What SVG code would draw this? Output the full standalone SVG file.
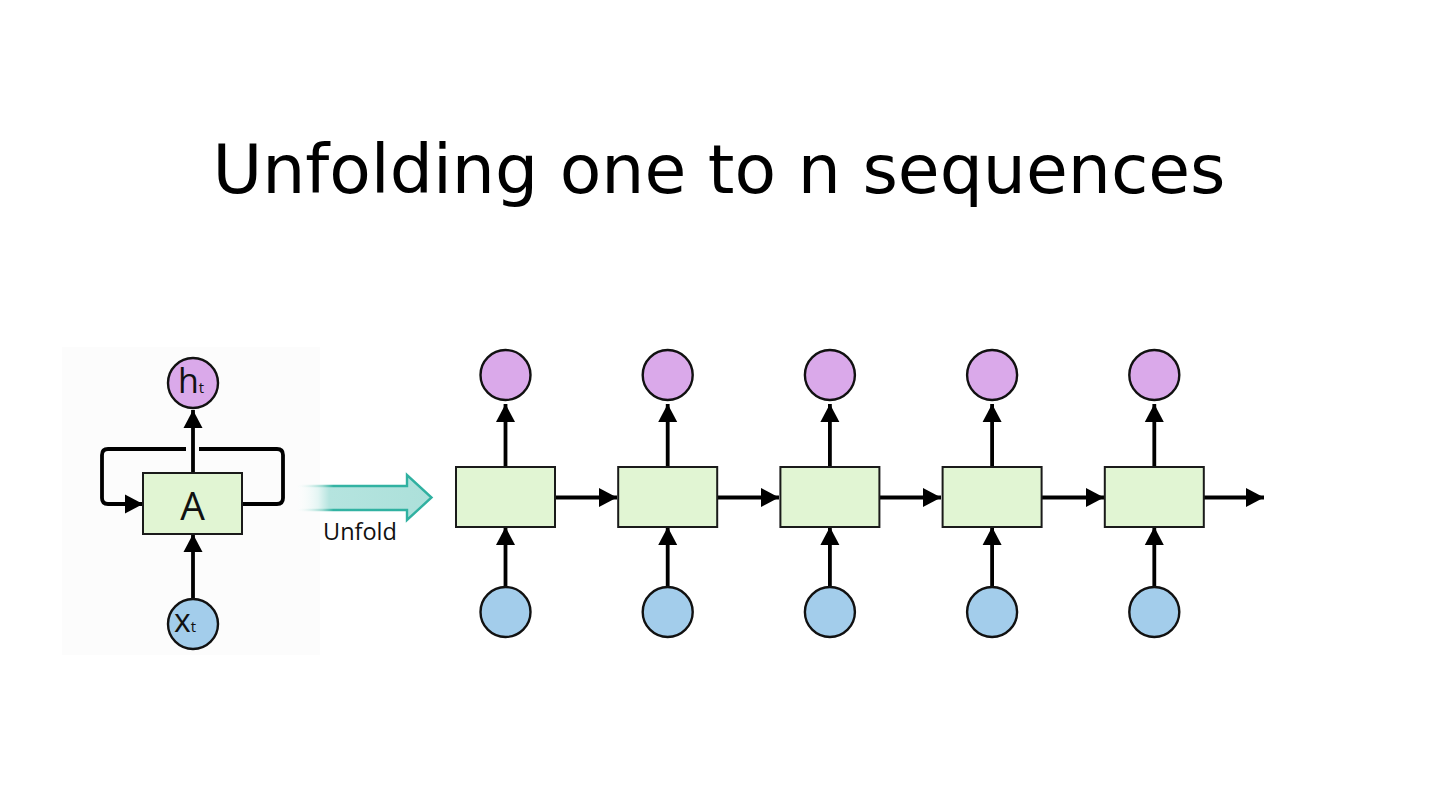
<svg xmlns="http://www.w3.org/2000/svg" width="1440" height="811" viewBox="0 0 1440 811">
<style>
.ln{fill:none;stroke:#000;stroke-width:3.8}
.box{fill:#e1f5d3;stroke:#1a1a1a;stroke-width:2}
.ho{fill:#daa9ea;stroke:#111;stroke-width:2.4}
.xi{fill:#a3cdeb;stroke:#111;stroke-width:2.4}
.lbl{font-family:"Open Sans","Noto Sans",sans-serif;fill:#111}
</style>
<defs>
<marker id="ah" markerUnits="userSpaceOnUse" markerWidth="19" markerHeight="20" refX="18" refY="9.5" orient="auto" viewBox="0 0 19 19">
<path d="M0,0 L18,9.5 L0,19 z" fill="#000"/>
</marker>
<linearGradient id="uf" x1="295" y1="0" x2="432" y2="0" gradientUnits="userSpaceOnUse">
<stop offset="0" stop-color="#ffffff" stop-opacity="0"/>
<stop offset="0.17" stop-color="#e3f5f3"/>
<stop offset="0.25" stop-color="#b5e4df"/>
<stop offset="1" stop-color="#ace0da"/>
</linearGradient>
<linearGradient id="ufs" x1="295" y1="0" x2="432" y2="0" gradientUnits="userSpaceOnUse">
<stop offset="0" stop-color="#ffffff" stop-opacity="0"/>
<stop offset="0.2" stop-color="#9edbd2"/>
<stop offset="0.28" stop-color="#33b3a3"/>
<stop offset="1" stop-color="#2fb0a0"/>
</linearGradient>
</defs>
<rect width="1440" height="811" fill="#fff"/>
<rect x="62" y="347" width="258" height="308" fill="#fcfcfc"/>
<text x="719" y="193" text-anchor="middle" font-family="DejaVu Sans, sans-serif" font-size="68" fill="#000">Unfolding one to n sequences</text>

<g id="connectors">
<path class="ln" d="M242,504 H277 Q283,504 283,498 V455 Q283,449 277,449 H199"/>
<path class="ln" d="M186,449 H108 Q102,449 102,455 V498 Q102,504 108,504 H143" marker-end="url(#ah)"/>
<line class="ln" x1="193" y1="473" x2="193" y2="410" marker-end="url(#ah)"/>
<line class="ln" x1="193" y1="599" x2="193" y2="534" marker-end="url(#ah)"/>
<g id="c-up">
<line class="ln" x1="505.5" y1="467" x2="505.5" y2="404" marker-end="url(#ah)"/>
<line class="ln" x1="667.7" y1="467" x2="667.7" y2="404" marker-end="url(#ah)"/>
<line class="ln" x1="829.9" y1="467" x2="829.9" y2="404" marker-end="url(#ah)"/>
<line class="ln" x1="992.1" y1="467" x2="992.1" y2="404" marker-end="url(#ah)"/>
<line class="ln" x1="1154.3" y1="467" x2="1154.3" y2="404" marker-end="url(#ah)"/>
</g>
<g id="c-in">
<line class="ln" x1="505.5" y1="587" x2="505.5" y2="527" marker-end="url(#ah)"/>
<line class="ln" x1="667.7" y1="587" x2="667.7" y2="527" marker-end="url(#ah)"/>
<line class="ln" x1="829.9" y1="587" x2="829.9" y2="527" marker-end="url(#ah)"/>
<line class="ln" x1="992.1" y1="587" x2="992.1" y2="527" marker-end="url(#ah)"/>
<line class="ln" x1="1154.3" y1="587" x2="1154.3" y2="527" marker-end="url(#ah)"/>
</g>
<g id="c-h">
<line class="ln" x1="555" y1="497.5" x2="617" y2="497.5" marker-end="url(#ah)"/>
<line class="ln" x1="717" y1="497.5" x2="779" y2="497.5" marker-end="url(#ah)"/>
<line class="ln" x1="879" y1="497.5" x2="941" y2="497.5" marker-end="url(#ah)"/>
<line class="ln" x1="1041" y1="497.5" x2="1104" y2="497.5" marker-end="url(#ah)"/>
<line class="ln" x1="1204" y1="497.5" x2="1264" y2="497.5" marker-end="url(#ah)"/>
</g>
</g>

<g id="A">
<rect class="box" x="143" y="473" width="99" height="61"/>
<text class="lbl" x="192.5" y="520" text-anchor="middle" font-size="39">A</text>
</g>
<g id="ht">
<circle class="ho" cx="193" cy="383" r="25"/>
<text class="lbl" x="178" y="393" font-size="34">h<tspan font-size="15">t</tspan></text>
</g>
<g id="xt">
<circle class="xi" cx="193" cy="624" r="25"/>
<text class="lbl" x="174" y="632" font-size="32">x<tspan font-size="15">t</tspan></text>
</g>
<g id="unfold">
<path d="M295,486 H407 V475 L431.5,497.5 L407,520 V510 H295" fill="url(#uf)" stroke="url(#ufs)" stroke-width="2.4"/>
<text class="lbl" x="323" y="540" font-size="23.5" fill="#333">Unfold</text>
</g>

<g id="cell1"><rect class="box" x="456" y="467" width="99" height="60"/></g>
<g id="cell2"><rect class="box" x="618.2" y="467" width="99" height="60"/></g>
<g id="cell3"><rect class="box" x="780.4" y="467" width="99" height="60"/></g>
<g id="cell4"><rect class="box" x="942.6" y="467" width="99" height="60"/></g>
<g id="cell5"><rect class="box" x="1104.8" y="467" width="99" height="60"/></g>

<g id="out1"><circle class="ho" cx="505.5" cy="375" r="25"/></g>
<g id="out2"><circle class="ho" cx="667.7" cy="375" r="25"/></g>
<g id="out3"><circle class="ho" cx="829.9" cy="375" r="25"/></g>
<g id="out4"><circle class="ho" cx="992.1" cy="375" r="25"/></g>
<g id="out5"><circle class="ho" cx="1154.3" cy="375" r="25"/></g>

<g id="in1"><circle class="xi" cx="505.5" cy="612" r="25"/></g>
<g id="in2"><circle class="xi" cx="667.7" cy="612" r="25"/></g>
<g id="in3"><circle class="xi" cx="829.9" cy="612" r="25"/></g>
<g id="in4"><circle class="xi" cx="992.1" cy="612" r="25"/></g>
<g id="in5"><circle class="xi" cx="1154.3" cy="612" r="25"/></g>
</svg>
